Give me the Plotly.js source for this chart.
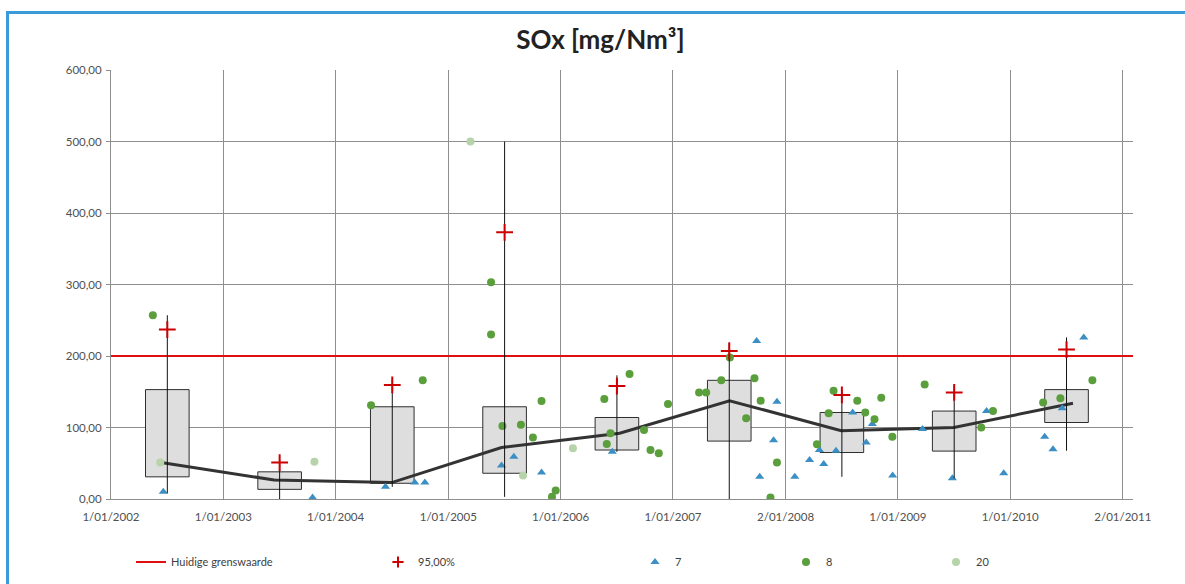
<!DOCTYPE html>
<html>
<head>
<meta charset="utf-8">
<script src="https://cdn.plot.ly/plotly-3.0.1.min.js"></script>
<style>
  html, body { margin: 0; padding: 0; background: #ffffff; }
  #wrap { position: relative; width: 1185px; height: 584px; overflow: hidden; }
  #chart { position: absolute; left: 0; top: 0; width: 1185px; height: 584px; }
  #frame { position: absolute; left: 6px; top: 11px; width: 1300px; height: 700px;
           border-top: 3px solid #3b9bd8; border-left: 3px solid #3b9bd8; pointer-events: none; }
</style>
</head>
<body>
<div id="wrap">
  <div id="chart"></div>
  <div id="frame"></div>
</div>
<script>
// ---- data ----
const boxDates = ['2002-07-03','2003-07-03','2004-07-03','2005-07-03','2006-07-03','2007-07-03','2008-07-03','2009-07-03','2010-07-03'];
const boxQ1  = [31, 13.5, 22, 36, 68.5, 81, 65, 67, 107];
const boxQ3  = [153, 38, 129, 129, 114, 166, 121, 123, 153];
const boxMin = [8, 0, 17, 3, 66, 0, 31, 29, 67.5];
const boxMax = [257, 55, 167, 500, 173, 219, 152, 158, 226];
const p95    = [237, 51, 159.5, 373, 158, 207, 145.5, 149, 209];

const lineDates  = ['2002-06-13','2003-06-15','2004-07-01','2005-06-23','2006-07-12','2007-07-04','2008-07-01','2009-07-02','2010-07-24'];
const lineValues = [51, 26.6, 23, 72, 92, 137.5, 95.5, 100, 134];

const limitValue = 200;
const xStart = '2002-01-01';
const xEnd   = '2011-02-04';

const s7Dates = ['2002-06-20','2003-10-18','2004-06-11','2004-09-14','2004-10-17','2005-06-23','2005-08-02','2005-10-31','2006-06-18',
  '2007-09-30','2007-12-05','2007-11-24','2007-10-10','2008-02-01','2008-03-20','2008-05-05','2008-04-21','2008-06-14','2008-08-07',
  '2008-09-20','2008-10-10','2008-12-15','2009-03-22','2009-06-27','2009-10-16','2009-12-11','2010-04-23','2010-05-20','2010-06-19','2010-08-28'];
const s7Values = [10, 2, 17, 23, 23, 47, 59, 37, 66,
  221, 136, 82, 31, 31, 54.5, 49, 68.5, 67.5, 121,
  79, 105, 33, 98, 29, 123, 36, 87, 69.5, 127, 226];

const s8Dates = ['2002-05-17','2004-04-25','2004-10-10','2005-05-20','2005-05-20','2005-06-26','2005-08-25','2005-10-03','2005-10-31',
  '2005-12-16','2005-12-04','2006-05-23','2006-08-13','2006-06-12','2006-05-31','2006-09-29','2006-10-20','2006-11-16','2006-12-16',
  '2007-03-27','2007-04-19','2007-06-07','2007-07-05','2007-09-23','2007-08-27','2007-10-13','2007-12-05','2007-11-14',
  '2008-04-13','2008-05-21','2008-06-06','2008-08-22','2008-09-17','2008-10-17','2008-11-08','2008-12-14',
  '2009-03-29','2009-11-06','2009-09-29','2010-04-18','2010-06-13','2010-09-25'];
const s8Values = [257, 131, 166, 303, 230, 102, 104, 86, 137,
  12, 3, 140, 175, 92, 77, 96.5, 68.5, 64, 133,
  149, 149, 166, 198, 169, 113, 137.5, 51, 2,
  76.5, 120, 151.5, 137.5, 121, 111.5, 141.7, 87,
  160, 123, 100, 135, 141, 166];

const s20Dates  = ['2002-06-10','2003-10-24','2005-03-14','2005-09-01','2006-02-10'];
const s20Values = [51, 52, 500, 33, 71];

const xTickVals = ['2002-01-01','2003-01-01','2004-01-01','2005-01-01','2006-01-01','2007-01-01','2008-01-02','2009-01-01','2010-01-01','2011-01-02'];
const xTickText = ['1/01/2002','1/01/2003','1/01/2004','1/01/2005','1/01/2006','1/01/2007','2/01/2008','1/01/2009','1/01/2010','2/01/2011'];

const names = ['Huidige grenswaarde', '95,00%', '7', '8', '20'];

// ---- traces ----
const DAY = 86400000;
const boxWidth = 141.7 * DAY;
const FONT = 'Lato, "Open Sans", sans-serif';
const RED = '#cc0000';

const traces = [
  {
    type: 'bar', x: boxDates, base: boxQ1,
    y: boxQ3.map((v, i) => v - boxQ1[i]),
    width: boxDates.map(() => boxWidth),
    marker: { color: '#dedede', line: { color: '#2e2e2e', width: 1 } },
    showlegend: false, hoverinfo: 'skip'
  },
  {
    type: 'scatter', mode: 'lines', name: names[0],
    x: [xStart, xEnd], y: [limitValue, limitValue],
    line: { color: '#e01010', width: 2 },
    legend: 'legend'
  },
  {
    type: 'scatter', mode: 'lines', x: lineDates, y: lineValues,
    line: { color: '#333333', width: 3 }, showlegend: false
  },
  {
    type: 'scatter', mode: 'markers', name: names[2], x: s7Dates, y: s7Values,
    marker: { symbol: 'triangle-up', size: 8, color: '#3b8fc4' },
    legend: 'legend3'
  },
  {
    type: 'scatter', mode: 'markers', name: names[3], x: s8Dates, y: s8Values,
    marker: { symbol: 'circle', size: 8, color: '#5a9f3c' },
    legend: 'legend4'
  },
  {
    type: 'scatter', mode: 'markers', name: names[4], x: s20Dates, y: s20Values,
    marker: { symbol: 'circle', size: 8, color: '#b7d3a9' },
    legend: 'legend5'
  },
  {
    type: 'scatter', mode: 'markers', name: names[1], x: boxDates, y: p95,
    marker: { symbol: 'cross-thin-open', size: 12, color: RED, line: { color: RED, width: 2 } },
    error_y: {
      type: 'data', symmetric: false,
      array: boxMax.map((v, i) => v - p95[i]),
      arrayminus: p95.map((v, i) => v - boxMin[i]),
      width: 0, thickness: 1, color: '#111111'
    },
    showlegend: false
  },
  {
    // legend-only entry with a smaller symbol, as in the reference legend
    type: 'scatter', mode: 'markers', name: names[1], x: [null], y: [null],
    marker: { symbol: 'cross-thin-open', size: 8, color: RED, line: { color: RED, width: 2 } },
    legend: 'legend2'
  }
];

function leg(px) {
  return {
    x: (px - 111) / 1022, xanchor: 'left',
    y: 1 - 562 / 584, yref: 'container', yanchor: 'middle',
    orientation: 'h', bgcolor: 'rgba(0,0,0,0)',
    font: { family: FONT, size: 11, color: '#404040' }
  };
}

const layout = {
  width: 1185, height: 584,
  margin: { l: 111, r: 52, t: 70, b: 85 },
  paper_bgcolor: '#ffffff', plot_bgcolor: '#ffffff',
  separators: ',.',
  title: {
    text: 'SOx [mg/Nm³]', x: 600.5 / 1185, xanchor: 'center', y: 1 - 40 / 584, yanchor: 'middle',
    font: { family: FONT, size: 26, color: '#222222', weight: 'bold' }
  },
  xaxis: {
    type: 'date', range: [xStart, xEnd],
    tickmode: 'array', tickvals: xTickVals, ticktext: xTickText,
    showgrid: true, gridcolor: '#8e8e8e', gridwidth: 1,
    showline: true, linecolor: '#8e8e8e', linewidth: 1,
    ticks: '', ticklabelstandoff: 7, zeroline: false,
    tickfont: { family: FONT, size: 11.5, color: '#505050' }
  },
  yaxis: {
    range: [0, 600], dtick: 100, tick0: 0, tickformat: '.2f',
    showgrid: true, gridcolor: '#8e8e8e', gridwidth: 1,
    showline: true, linecolor: '#8e8e8e', linewidth: 1,
    ticks: 'outside', ticklen: 4, tickcolor: '#8e8e8e', ticklabelstandoff: 2,
    zeroline: false,
    tickfont: { family: FONT, size: 11.5, color: '#505050' }
  },
  showlegend: true,
  legend: leg(131), legend2: leg(378), legend3: leg(635), legend4: leg(786), legend5: leg(936),
  barmode: 'overlay'
};

Plotly.newPlot('chart', traces, layout, { displayModeBar: false, staticPlot: true });
</script>
</body>
</html>
